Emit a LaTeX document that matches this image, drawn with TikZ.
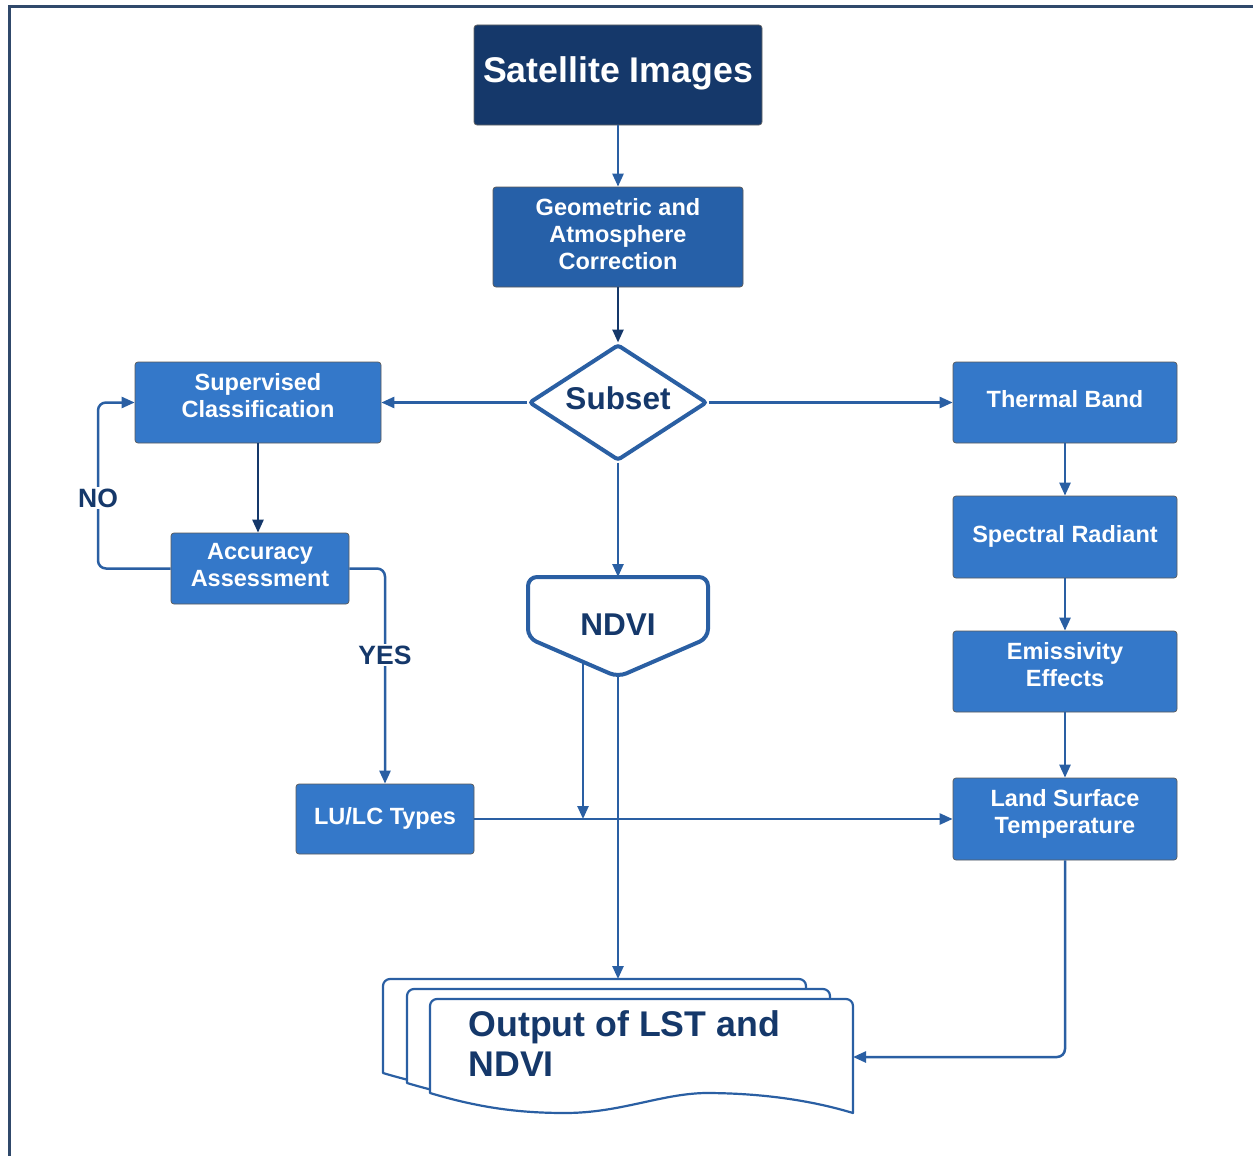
\documentclass[tikz,border=0pt]{standalone}
\usepackage{fontspec}
\setmainfont{Liberation Sans}
\usetikzlibrary{arrows.meta,shapes.geometric}
\definecolor{navy}{HTML}{15386A}
\definecolor{midblue}{HTML}{2660A8}
\definecolor{boxblue}{HTML}{3478C9}
\definecolor{lineblue}{HTML}{2A5FA3}
\definecolor{framecol}{HTML}{30496B}
\begin{document}
\begin{tikzpicture}[x=1pt,y=-1pt,
  conn/.style={draw=lineblue,line width=2.5pt,-{Triangle[length=13pt,width=11pt]}},
  darkconn/.style={conn,draw=navy},
  box/.style={rectangle,rounded corners=3pt,fill=boxblue,draw=black!65,line width=0.7pt,
    text=white,font=\bfseries\fontsize{23.5}{27}\selectfont,align=center,inner sep=0pt,
    execute at end node={\rule[-7pt]{0pt}{0pt}}},
  lbl/.style={fill=white,text=navy,font=\bfseries\fontsize{26.5}{29}\selectfont,inner sep=2pt},
  sheet/.style={fill=white,draw=lineblue,line width=2.2pt,line join=round}
]
\useasboundingbox (0,0) rectangle (1253,1156);
% frame
\draw[framecol,line width=3pt] (9,1160) -- (9,7) -- (1260,7);

% nodes
\node[box,fill=navy,draw=black!60,minimum width=288pt,minimum height=100pt,
  font=\bfseries\fontsize{35.7}{40}\selectfont,execute at end node={\rule[-11pt]{0pt}{0pt}}] (sat) at (618,75) {Satellite Images};
\node[box,fill=midblue,minimum width=250pt,minimum height=100pt] (geo) at (618,237)
  {Geometric and\\Atmosphere\\Correction};
\node[diamond,shape aspect=1.5,draw=lineblue,fill=white,line width=4pt,minimum width=178pt,minimum height=116pt,
  inner sep=0pt,rounded corners=3pt,text=navy,font=\bfseries\fontsize{31.5}{34}\selectfont,
  execute at end node={\rule[-9pt]{0pt}{0pt}}] (subset) at (618,402.5) {Subset};
\node[box,minimum width=246pt,minimum height=81pt,execute at end node={\rule[-14pt]{0pt}{0pt}}] (sup) at (258,402.5) {Supervised\\Classification};
\node[box,minimum width=178pt,minimum height=71pt] (acc) at (260,568.5) {Accuracy\\Assessment};
\node[box,minimum width=178pt,minimum height=70pt] (lulc) at (385,819) {LU/LC Types};
\node[box,minimum width=224pt,minimum height=81pt] (thermal) at (1065,402.5) {Thermal Band};
\node[box,minimum width=224pt,minimum height=82pt] (spectral) at (1065,537) {Spectral Radiant};
\node[box,minimum width=224pt,minimum height=81pt,execute at end node={\rule[-14pt]{0pt}{0pt}}] (emis) at (1065,671.5) {Emissivity\\Effects};
\node[box,minimum width=224pt,minimum height=82pt,execute at end node={\rule[-16pt]{0pt}{0pt}}] (lst) at (1065,819) {Land Surface\\Temperature};

% NDVI off-page shape
\draw[lineblue,line width=4pt,fill=white,rounded corners=9pt]
  (528,577) -- (708,577) -- (708,638) -- (618,677) -- (528,638) -- cycle;
\node[text=navy,font=\bfseries\fontsize{31.5}{34}\selectfont] (ndvi) at (618,625) {NDVI};
\coordinate (ndvitop) at (618,577);
\coordinate (ndvibot) at (618,677);
\coordinate (ndvileft) at (583,663);
\coordinate (ndvijoin) at (583,819);

% Output multi-document
\foreach \dx/\dy in {-47/-20,-23/-10,0/0}{
  \begin{scope}[shift={(\dx,\dy)}]
  \path[sheet] (430,1093) -- (430,1006) arc[start angle=180,end angle=270,radius=7]
    -- (846,999) arc[start angle=270,end angle=360,radius=7] -- (853,1113)
    .. controls (810,1100) and (760,1093) .. (705,1093)
    .. controls (660,1094) and (620,1113) .. (565,1113)
    .. controls (520,1113) and (480,1108) .. (430,1093) -- cycle;
  \end{scope}
}
\node[anchor=west,align=left,text=navy,font=\bfseries\fontsize{35.7}{40}\selectfont] (out) at (465,1044)
  {Output of LST and\\NDVI};
\coordinate (outtop) at (618,979);
\coordinate (outright) at (853,1057);

% connectors
\draw[conn] (sat) -- (geo);
\draw[darkconn] (geo) -- (subset);
\draw[conn] (subset) -- (sup);
\draw[conn] (subset) -- (thermal);
\draw[conn] (subset) -- (ndvitop);
\draw[darkconn] (sup.south) -- (sup.south |- acc.north);
\draw[conn,rounded corners=8pt] (acc.west) -- (98,568.5) |- (sup.west);
\node[lbl] (no) at (98,498) {NO};
\draw[conn,rounded corners=8pt] (acc.east) -| (lulc.north);
\node[lbl] (yes) at (385,655) {YES};
\draw[conn] (thermal) -- (spectral);
\draw[conn] (spectral) -- (emis);
\draw[conn] (emis) -- (lst);
\draw[conn] (lulc) -- (lst);
\draw[conn] (ndvileft) -- (ndvijoin);
\draw[conn] (ndvibot) -- (outtop);
\draw[conn,rounded corners=8pt] (lst.south) |- (outright);
\end{tikzpicture}
\end{document}
